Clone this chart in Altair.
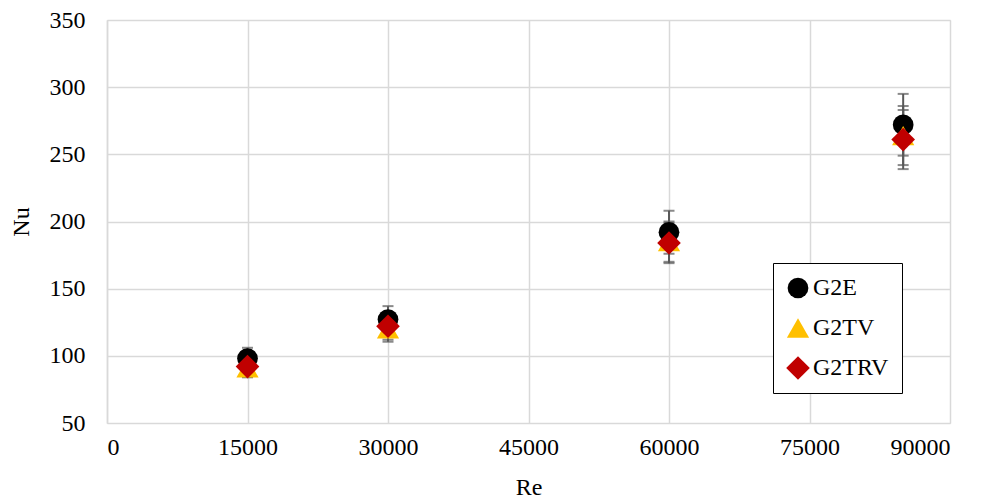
import altair as alt
import pandas as pd

# Reynolds numbers tested
re_values = [15000, 30000, 60000, 85000]

# Nusselt numbers per configuration
series_names = ["G2E", "G2TV", "G2TRV"]
nu_g2e = [98, 127, 192, 272]
nu_g2tv = [91, 120, 185, 264]
nu_g2trv = [92, 122, 184, 261]

# Uncertainty (±) per point
err_g2e = [8, 10, 16, 23]
err_g2tv = [7, 9.5, 15, 22]
err_g2trv = [7.5, 10, 15, 22]

colors = ["#000000", "#FFC000", "#C00000"]
shapes = ["circle", "triangle-up", "diamond"]
marker_sizes = [430, 560, 440]

rows = []
for name, nus, errs in zip(series_names, [nu_g2e, nu_g2tv, nu_g2trv], [err_g2e, err_g2tv, err_g2trv]):
    for re_, nu, e in zip(re_values, nus, errs):
        rows.append({"series": name, "Re": re_, "Nu": nu, "lo": nu - e, "hi": nu + e})
df = pd.DataFrame(rows)

caps = pd.concat([
    df[["series", "Re"]].assign(cap=df["lo"]),
    df[["series", "Re"]].assign(cap=df["hi"]),
])

FONT = "Liberation Serif"
FS = 24

x_scale = alt.Scale(domain=[0, 90000], nice=False, zero=True)
y_scale = alt.Scale(domain=[50, 350], nice=False, zero=False)

x_enc = alt.X("Re:Q", scale=x_scale, title="Re",
              axis=alt.Axis(values=[0, 15000, 30000, 45000, 60000, 75000, 90000], format="d"))
y_enc = alt.Y("Nu:Q", scale=y_scale, title="Nu",
              axis=alt.Axis(values=[50, 100, 150, 200, 250, 300, 350]))

whisker = alt.Chart(df).mark_rule(color="#595959", strokeWidth=2).encode(
    x=alt.X("Re:Q", scale=x_scale),
    y=alt.Y("lo:Q", scale=y_scale),
    y2="hi:Q",
)

cap_ticks = alt.Chart(caps).mark_tick(color="#595959", orient="horizontal", size=11, thickness=2).encode(
    x=alt.X("Re:Q", scale=x_scale),
    y=alt.Y("cap:Q", scale=y_scale),
)

legend = alt.Legend(title=None, orient="none", legendX=666, legendY=243,
                    strokeColor="#000000", fillColor="#ffffff",
                    padding=13, rowPadding=16, symbolSize=330,
                    labelFont=FONT, labelFontSize=FS, labelColor="#000000",
                    symbolOpacity=1, labelOffset=3, symbolStrokeWidth=0)

points = alt.Chart(df).mark_point(filled=True, opacity=1).encode(
    x=x_enc,
    y=y_enc,
    color=alt.Color("series:N", scale=alt.Scale(domain=series_names, range=colors),
                    sort=series_names, legend=legend),
    shape=alt.Shape("series:N", scale=alt.Scale(domain=series_names, range=shapes),
                    sort=series_names),
    size=alt.Size("series:N", scale=alt.Scale(domain=series_names, range=marker_sizes),
                  legend=None),
    order=alt.Order("order:Q"),
).transform_calculate(
    order="indexof(['G2E','G2TV','G2TRV'], datum.series)"
)

chart = alt.layer(whisker, cap_ticks, points).properties(
    width=843, height=403,
    background="#ffffff",
    autosize=alt.AutoSizeParams(type="none"),
    padding={"left": 107, "top": 20, "right": 36, "bottom": 81},
).configure_view(
    stroke="#d9d9d9", strokeWidth=1
).configure_axis(
    labelFont=FONT, titleFont=FONT, labelFontSize=FS, titleFontSize=FS,
    labelColor="#000000", titleColor="#000000", titleFontWeight="normal",
    gridColor="#d9d9d9", gridWidth=1.5, domainColor="#d9d9d9",
    ticks=False,
).configure_axisX(
    labelPadding=12, titlePadding=16, domain=False,
).configure_axisY(
    labelPadding=22, titlePadding=16, domain=True, domainWidth=1.5,
)

chart.save("out.html", embed_options={"renderer": "svg", "actions": False})
